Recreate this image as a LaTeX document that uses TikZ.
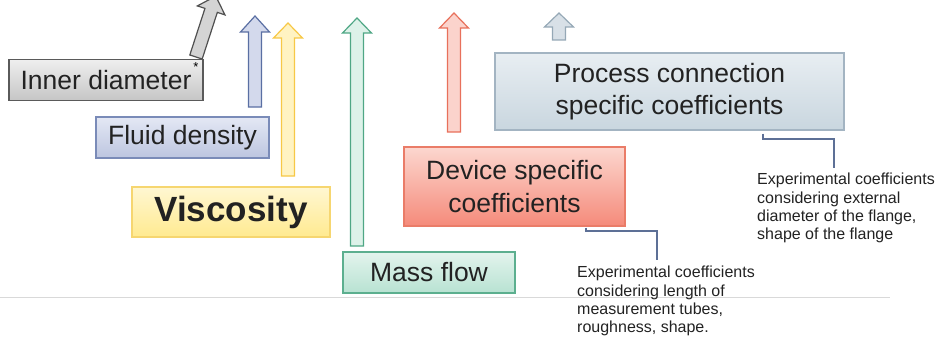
\documentclass[tikz,border=0pt]{standalone}
\usepackage{fontspec}
\setmainfont{Liberation Sans}
\usetikzlibrary{calc}

% box fills (top / bottom) and borders
\definecolor{innerT}{HTML}{EEEEEE}\definecolor{innerB}{HTML}{C6C6C6}\definecolor{innerD}{HTML}{5A5A5A}
\definecolor{fluidT}{HTML}{E4E8F4}\definecolor{fluidB}{HTML}{BCC5E0}\definecolor{fluidD}{HTML}{7A8BB8}
\definecolor{viscT}{HTML}{FFF7D2}\definecolor{viscB}{HTML}{FFEA90}\definecolor{viscD}{HTML}{F6D670}
\definecolor{massT}{HTML}{E3F4ED}\definecolor{massB}{HTML}{B8E2D2}\definecolor{massD}{HTML}{5CAF8F}
\definecolor{devT}{HTML}{FCD7CF}\definecolor{devB}{HTML}{F58A7A}\definecolor{devD}{HTML}{EA7C68}
\definecolor{procT}{HTML}{E8EEF2}\definecolor{procB}{HTML}{C9D6DF}\definecolor{procD}{HTML}{A3B4C2}
% block arrow colours
\definecolor{arGrayF}{HTML}{D4D4D4}\definecolor{arGrayD}{HTML}{505050}
\definecolor{arBlueF}{HTML}{D3D9EC}\definecolor{arBlueD}{HTML}{5A6FA3}
\definecolor{arYelF}{HTML}{FFF3C2}\definecolor{arYelD}{HTML}{F7C846}
\definecolor{arGrnF}{HTML}{DDF2E9}\definecolor{arGrnD}{HTML}{4FA785}
\definecolor{arRedF}{HTML}{FBD3CC}\definecolor{arRedD}{HTML}{E8705B}
\definecolor{arLbF}{HTML}{D8E0E7}\definecolor{arLbD}{HTML}{95A8B6}
\definecolor{calloutblue}{HTML}{5D7096}
\definecolor{inktext}{HTML}{222222}

% block arrow: style, tail point, direction angle, total length, head length
\newcommand\blockarrow[5]{%
  \begin{scope}[shift={#2},rotate=#3]
    \draw[#1] (0,-6.5) -- ({#4-#5},-6.5) -- ({#4-#5},-14.5) -- (#4,0)
      -- ({#4-#5},14.5) -- ({#4-#5},6.5) -- (0,6.5) -- cycle;
  \end{scope}}

\begin{document}
\begin{tikzpicture}[x=1pt,y=-1pt,
  panel/.style={rectangle, draw, line width=1.3pt, inner sep=0pt, align=center,
    text=inktext, font=\fontsize{26.5}{32.5}\selectfont},
  note/.style={inner sep=0pt, align=left, anchor=north west, text=inktext,
    font=\fontsize{16}{18.3}\selectfont},
  callout/.style={draw=calloutblue, line width=1.5pt},
  barrow/.style={line width=1.2pt, line join=miter},
]
\useasboundingbox (0,0) rectangle (942,337);
\clip (0,0) rectangle (942,337);

% thin rule across the lower part
\draw[black!15, line width=0.8pt] (0,297) -- (890,297);

% upward block arrows
\blockarrow{barrow, fill=arGrayF, draw=arGrayD}{(196,57)}{72}{64}{15}
\blockarrow{barrow, fill=arBlueF, draw=arBlueD}{(255,107)}{90}{91}{16}
\blockarrow{barrow, fill=arYelF, draw=arYelD}{(288,176)}{90}{153}{15}
\blockarrow{barrow, fill=arGrnF, draw=arGrnD}{(357,246)}{90}{228}{15}
\blockarrow{barrow, fill=arRedF, draw=arRedD}{(454,132)}{90}{119}{15}
\blockarrow{barrow, fill=arLbF, draw=arLbD}{(559,40)}{90}{27}{14}

% parameter boxes
\node[panel, minimum width=194, minimum height=41, top color=innerT, bottom color=innerB, draw=innerD]
  (inner) at (106,80) {Inner diameter};
\node[font=\fontsize{13}{13}\selectfont, inner sep=0pt] (star) at (196,67) {*};
\node[panel, minimum width=173, minimum height=41, top color=fluidT, bottom color=fluidB, draw=fluidD]
  (fluid) at (182.5,137.5) {Fluid density};
\node[panel, minimum width=198, minimum height=50, top color=viscT, bottom color=viscB, draw=viscD,
  font=\bfseries\fontsize{35}{40}\selectfont]
  (visc) at (231,212) {Viscosity};
\node[panel, minimum width=172, minimum height=41, top color=massT, bottom color=massB, draw=massD]
  (mass) at (429,272.5) {Mass flow};
\node[panel, minimum width=221, minimum height=79, top color=devT, bottom color=devB, draw=devD]
  (dev) at (514.5,186.5) {Device specific\\coefficients};
\node[panel, minimum width=349, minimum height=77, top color=procT, bottom color=procB, draw=procD]
  (proc) at (669.5,91.5) {Process connection\\specific coefficients};

% explanatory notes
\node[note] (note1) at (577,266) {Experimental coefficients\\considering length of\\measurement tubes,\\roughness, shape.};
\node[note] (note2) at (757,173) {Experimental coefficients\\considering external\\diameter of the flange,\\shape of the flange};

% callout brackets
\coordinate (k1) at (586,231);
\coordinate (k2) at (657,260);
\draw[callout] ([yshift=-1pt]dev.south -| k1) -- (k1) -| (k2);
\coordinate (k3) at (763,139);
\coordinate (k4) at (834,168);
\draw[callout] ([yshift=-3pt]proc.south -| k3) -- (k3) -| (k4);
\end{tikzpicture}
\end{document}
